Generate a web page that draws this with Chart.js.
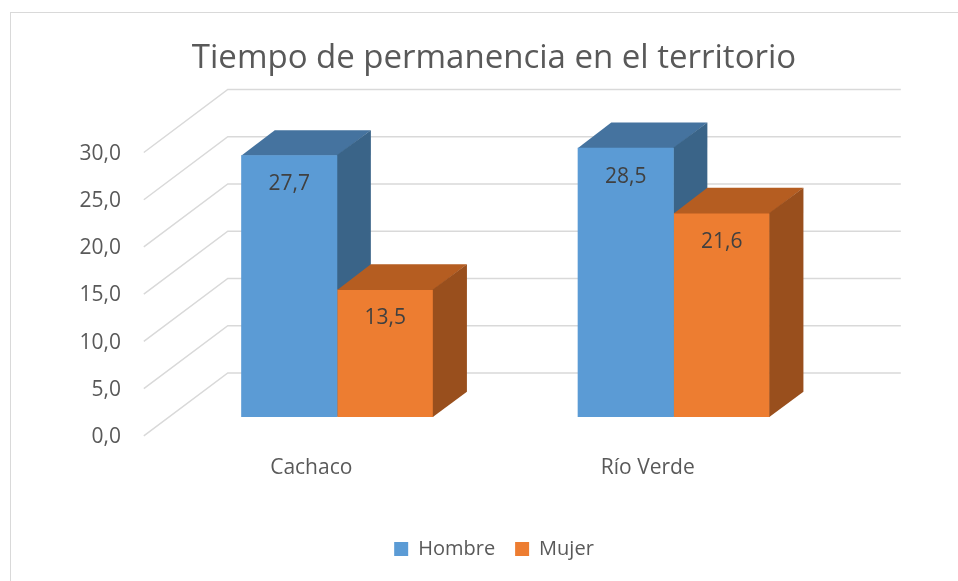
<!DOCTYPE html>
<html>
<head>
<meta charset="utf-8">
<script src="https://cdn.jsdelivr.net/npm/chart.js@4.4.1/dist/chart.umd.min.js"></script>
<style>
    html, body { margin: 0; padding: 0; background: #fff; }
</style>
</head>
<body>
<canvas id="barChart" width="958" height="581"></canvas>
<script>
    "use strict";

    // data
    var categories = ["Cachaco", "Río Verde"];
    var hombre = [27.7, 28.5];
    var mujer = [13.5, 21.6];
    var yTicks = [0, 5, 10, 15, 20, 25, 30];

    var font = "'Open Sans', 'Noto Sans', sans-serif";
    var textGrey = "#595959";

    // fake 3d: full floor depth, bars sit from 30% to 70% of it
    var depthX = 84, depthY = -63;
    var frontPart = 0.3, barPart = 0.4;

    var faceColors = [
        { top: "#45739f", side: "#3a6488" },
        { top: "#b55d21", side: "#994f1d" }
    ];

    function fmt(v) {
        return v.toFixed(1).replace(".", ",");
    }

    function poly(ctx, pts, color) {
        ctx.fillStyle = color;
        ctx.beginPath();
        ctx.moveTo(pts[0][0], pts[0][1]);
        for (var i = 1; i < pts.length; i++) ctx.lineTo(pts[i][0], pts[i][1]);
        ctx.closePath();
        ctx.fill();
    }

    function drawFaces(chart, index) {
        var ctx = chart.ctx;
        var bx = barPart * depthX, by = barPart * depthY;
        chart.getDatasetMeta(index).data.forEach(function (bar) {
            var p = bar.getProps(["x", "y", "width", "base"], true);
            var l = p.x - p.width / 2, r = p.x + p.width / 2;
            poly(ctx, [[l, p.y + 0.5], [r, p.y + 0.5], [r + bx, p.y + by], [l + bx, p.y + by]], faceColors[index].top);
            poly(ctx, [[r - 0.5, p.y], [r + bx, p.y + by], [r + bx, p.base + by], [r - 0.5, p.base]], faceColors[index].side);
        });
    }

    var fake3d = {
        id: "fake3d",
        beforeDraw: function (chart) {
            var ctx = chart.ctx;
            ctx.save();
            ctx.strokeStyle = "#d9d9d9";
            ctx.lineWidth = 1;
            ctx.strokeRect(10.5, 12.5, 2000, 2000);
            ctx.restore();
        },
        beforeDatasetsDraw: function (chart) {
            var ctx = chart.ctx, a = chart.chartArea, y = chart.scales.y;
            var fx = -frontPart * depthX, fy = -frontPart * depthY;
            var wx = (1 - frontPart) * depthX, wy = (1 - frontPart) * depthY;
            ctx.save();
            ctx.strokeStyle = "#d9d9d9";
            ctx.lineWidth = 1.5;
            yTicks.forEach(function (v) {
                var py = y.getPixelForValue(v);
                ctx.beginPath();
                ctx.moveTo(a.left + fx, py + fy);
                ctx.lineTo(a.left + wx, py + wy);
                ctx.lineTo(a.right + wx, py + wy);
                ctx.stroke();
            });
            // boxes behind the last series go first
            for (var i = 0; i < chart.data.datasets.length - 1; i++) drawFaces(chart, i);
            ctx.restore();
        },
        afterDatasetsDraw: function (chart) {
            var ctx = chart.ctx;
            ctx.save();
            drawFaces(chart, chart.data.datasets.length - 1);
            ctx.fillStyle = "#404040";
            ctx.font = "21px " + font;
            ctx.textAlign = "center";
            ctx.textBaseline = "middle";
            chart.data.datasets.forEach(function (ds, i) {
                chart.getDatasetMeta(i).data.forEach(function (bar, j) {
                    ctx.fillText(fmt(ds.data[j]), bar.x, bar.y + 29);
                });
            });
            ctx.restore();
        }
    };

    var ctx = document.getElementById("barChart");
    var myChart = new Chart(ctx, {
        type: 'bar',
        data: {
            labels: categories,
            datasets: [{
                label: "Hombre",
                data: hombre,
                backgroundColor: "#5b9bd5",
                borderWidth: 0,
                categoryPercentage: 0.571,
                barPercentage: 1.0
            }, {
                label: "Mujer",
                data: mujer,
                backgroundColor: "#ed7d31",
                borderWidth: 0,
                categoryPercentage: 0.571,
                barPercentage: 1.0
            }]
        },
        options: {
            responsive: false,
            animation: false,
            layout: { padding: { left: 30, right: 0, top: 0, bottom: 12 } },
            plugins: {
                title: {
                    display: true,
                    text: "Tiempo de permanencia en el territorio",
                    color: textGrey,
                    font: { family: font, size: 33, weight: "normal" },
                    padding: { top: 39, bottom: 55 }
                },
                legend: {
                    position: "bottom",
                    labels: {
                        color: textGrey,
                        font: { family: font, size: 20 },
                        boxWidth: 14,
                        boxHeight: 14,
                        padding: 20
                    }
                },
                tooltip: { enabled: false }
            },
            scales: {
                x: {
                    grid: { display: false },
                    border: { display: false },
                    ticks: {
                        color: textGrey,
                        font: { family: font, size: 21 },
                        padding: 30,
                        labelOffset: -26
                    },
                    afterFit: function (s) { s.height = 102; }
                },
                y: {
                    min: 0,
                    max: 30,
                    grid: { display: false },
                    border: { display: false },
                    ticks: {
                        color: textGrey,
                        font: { family: font, size: 21 },
                        padding: 40,
                        labelOffset: 20,
                        callback: function (v) { return fmt(v); }
                    },
                    afterBuildTicks: function (s) {
                        s.ticks = yTicks.map(function (v) { return { value: v }; });
                    },
                    afterFit: function (s) { s.width = 139; }
                },
                // empty axis only to keep room on the right, like the original
                side: {
                    position: "right",
                    grid: { display: false },
                    border: { display: false },
                    ticks: { display: false },
                    afterFit: function (s) { s.width = 116; }
                }
            }
        },
        plugins: [fake3d]
    });
</script>
</body>
</html>
